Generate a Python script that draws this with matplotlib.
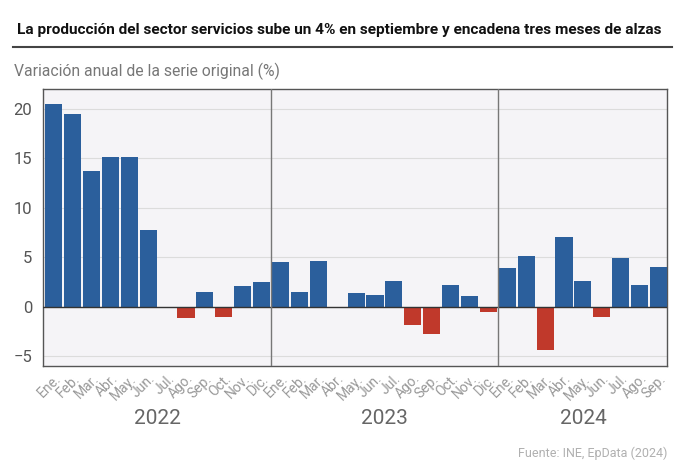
import numpy as np
import matplotlib.pyplot as plt

# data
months = ['Ene.', 'Feb.', 'Mar.', 'Abr.', 'May.', 'Jun.', 'Jul.', 'Ago.', 'Sep.', 'Oct.', 'Nov.', 'Dic.']
years = ['2022', '2023', '2024']
v2022 = [20.5, 19.5, 13.7, 15.15, 15.15, 7.7, -0.1, -1.1, 1.5, -1.0, 2.05, 2.5]
v2023 = [4.47, 1.48, 4.66, -0.1, 1.38, 1.15, 2.55, -1.88, -2.8, 2.15, 1.08, -0.5]
v2024 = [3.87, 5.07, -4.43, 7.03, 2.6, -1.07, 4.93, 2.17, 3.97]

values = np.array(v2022 + v2023 + v2024)
labels = months + months + months[:len(v2024)]
x = np.arange(len(values))

blue = '#2b5f9c'
red = '#c0392b'
colors = [blue if v >= 0 else red for v in values]

plt.rcParams['font.family'] = ['Roboto', 'DejaVu Sans']

fig = plt.figure(figsize=(6.9, 4.72), dpi=100)
ax = fig.add_axes([43.3/690, 1-366/472, (667-43.3)/690, (366-89)/472])
ax.set_facecolor('#f5f4f7')

ax.bar(x, values, width=0.9, color=colors, zorder=3)
ax.axhline(0, color='#333333', lw=1, zorder=4)

# year separators
for b in [11.5, 23.5]:
    ax.axvline(b, color='#777777', lw=1, zorder=4)

ax.set_xlim(-0.55, len(values) - 0.55)
ax.set_ylim(-6, 22)
ax.set_yticks([-5, 0, 5, 10, 15, 20])
ax.set_yticklabels(['\u22125', '0', '5', '10', '15', '20'])
ax.grid(axis='y', color='#dcdcdc', lw=0.8, zorder=0)
ax.tick_params(axis='y', length=0, labelsize=12, labelcolor='#555555', pad=8)

ax.set_xticks(x)
ax.set_xticklabels(labels, rotation=45, ha='right', va='top', rotation_mode='anchor',
                   fontsize=10, color='#999999')
ax.tick_params(axis='x', length=0, pad=4)

for s in ax.spines.values():
    s.set_color('#555555')
    s.set_linewidth(1)

# year labels below
starts = [0, 12, 24]
ends = [11, 23, len(values) - 1]
for yr, a, b in zip(years, starts, ends):
    ax.text((a + b) / 2, -0.19, yr, transform=ax.get_xaxis_transform(),
            ha='center', va='center', fontsize=15, color='#666666')

fig.text(17/690, 1-30/472, 'La producción del sector servicios sube un 4% en septiembre y encadena tres meses de alzas',
         fontsize=11.05, fontweight='bold', color='#111111', va='center')
fig.add_artist(plt.Line2D([13/690, 672/690], [1-47/472, 1-47/472], color='#444444', lw=1.5))
fig.text(14/690, 1-71/472, 'Variación anual de la serie original (%)', fontsize=11.3,
         color='#777777', va='center')
fig.text(667/690, 1-453/472, 'Fuente: INE, EpData (2024)', fontsize=9, color='#b0b0b0',
         ha='right', va='center')

fig.savefig('out.png', dpi=100)
